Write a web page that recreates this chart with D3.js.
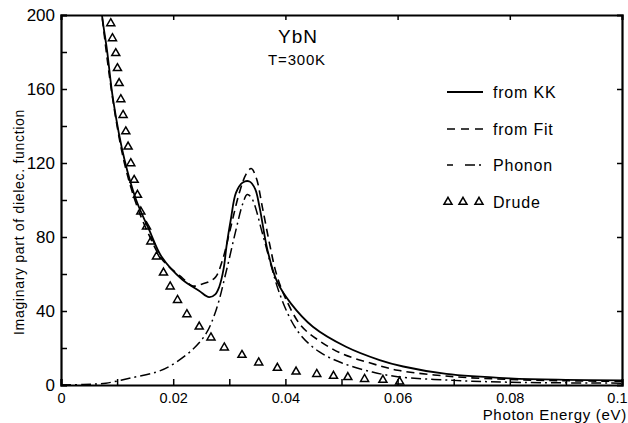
<!DOCTYPE html>
<html>
<head>
<meta charset="utf-8">
<script src="https://cdn.jsdelivr.net/npm/d3@7"></script>
<style>
  body { margin: 0; background: #fff; }
  svg { display: block; font-family: "Liberation Sans", Arial, sans-serif; }
  .axis path, .axis line { stroke: #000; }
  .axis text { fill: #000; }
</style>
</head>
<body>
<div id="wrapper"></div>
<script>
// photon energy (eV) / imaginary part of dielectric function
var kkEnergy = [0.0060, 0.0073, 0.0082, 0.0093, 0.0113, 0.0134, 0.0157, 0.0180, 0.0216, 0.0246, 0.0264, 0.0275, 0.0282, 0.0290, 0.0295, 0.0303, 0.0312, 0.0324, 0.0336, 0.0346, 0.0354, 0.0368, 0.0385, 0.0410, 0.0449, 0.0508, 0.0568, 0.0610, 0.0687, 0.0800, 0.0900, 0.1000];
var kkValue  = [240, 200, 181, 154, 122, 100, 84, 69, 57, 51, 47.5, 49, 53, 63, 75, 90, 104, 109.5, 110, 106, 96, 73, 56, 44, 31.5, 20.7, 13.5, 10, 6, 3.6, 2.8, 2.5];

var fitEnergy = [0.0060, 0.0073, 0.0093, 0.0113, 0.0134, 0.0157, 0.0180, 0.0217, 0.0235, 0.0252, 0.0265, 0.0276, 0.0288, 0.0300, 0.0318, 0.0330, 0.0339, 0.0348, 0.0359, 0.0372, 0.0384, 0.0400, 0.0428, 0.0460, 0.0500, 0.0550, 0.0600, 0.0700, 0.0800, 0.0900, 0.1000];
var fitValue  = [240, 200, 153, 120, 98, 81, 68, 57.7, 53.5, 54.6, 56, 58.5, 67.6, 82, 104, 114, 117, 112, 96, 76, 60, 47, 32, 24, 17, 12, 8, 4.5, 3, 2.3, 2];

var phononEnergy = [0.0000, 0.0040, 0.0080, 0.0127, 0.0170, 0.0193, 0.0234, 0.0259, 0.0277, 0.0295, 0.0312, 0.0324, 0.0332, 0.0340, 0.0359, 0.0375, 0.0389, 0.0410, 0.0430, 0.0460, 0.0500, 0.0555, 0.0600, 0.0700, 0.0800, 0.1000];
var phononValue  = [0, 0.3, 1, 4, 7, 10, 19, 28, 41, 62, 84, 98, 103, 101, 82, 64, 50, 35, 26, 18, 12, 7, 4.5, 2.5, 1.5, 1];

var drudeEnergy = [0.00887, 0.00917, 0.00976, 0.01006, 0.01036, 0.01066, 0.01107, 0.01155, 0.01196, 0.01244, 0.01304, 0.01363, 0.01423, 0.01524, 0.01601, 0.01702, 0.01827, 0.01946, 0.02077, 0.02244, 0.02464, 0.02673, 0.02911, 0.03226, 0.03524, 0.03857, 0.04190, 0.04559, 0.04857, 0.05113, 0.05411, 0.05738, 0.06036];
var drudeValue  = [195.5, 187.4, 179.3, 171.2, 163.1, 154.4, 145.9, 137, 128.8, 119.8, 110.8, 102.7, 93.7, 85.6, 77.5, 69.4, 60.7, 53.2, 45.9, 38.2, 31.5, 25.6, 20.2, 16.2, 12.1, 9.2, 7.2, 5.9, 4.9, 4.2, 3.2, 2.7, 1.8];

var xTicks = [0, 0.01, 0.02, 0.03, 0.04, 0.05, 0.06, 0.07, 0.08, 0.09, 0.1];
var xLabels = {0: "0", 0.02: "0.02", 0.04: "0.04", 0.06: "0.06", 0.08: "0.08", 0.1: "0.1"};
var yTicks = [0, 20, 40, 60, 80, 100, 120, 140, 160, 180, 200];
var yLabels = [0, 40, 80, 120, 160, 200];

var legendNames = ["from KK", "from Fit", "Phonon", "Drude"];

var dimension = {
    width: 628,
    height: 423,
    margin: { top: 15, right: 6, bottom: 38, left: 61 }
}
dimension.boundedWidth = dimension.width - dimension.margin.left - dimension.margin.right;
dimension.boundedHeight = dimension.height - dimension.margin.top - dimension.margin.bottom;

var x = d3.scaleLinear().domain([0, 0.1]).range([0, 561]);
var y = d3.scaleLinear().domain([0, 200]).range([370, 0]);

const svg = d3.select("#wrapper")
    .append("svg")
    .attr("width", dimension.width)
    .attr("height", dimension.height)

const bounds = svg.append("g")
    .attr("transform", `translate(${dimension.margin.left},${dimension.margin.top})`)

bounds.append("clipPath")
    .attr("id", "plotclip")
    .append("rect")
    .attr("x", 0).attr("y", 0)
    .attr("width", 561).attr("height", 370)

// curves
var line = d3.line()
    .x(d => x(d[0]))
    .y(d => y(d[1]))
    .curve(d3.curveCatmullRom.alpha(0.5))

var zip = (a, b) => a.map((v, i) => [v, b[i]]);

var curves = [
    {pts: zip(kkEnergy, kkValue), dash: null, w: 1.8},
    {pts: zip(fitEnergy, fitValue), dash: "8,5", w: 1.6},
    {pts: zip(phononEnergy, phononValue), dash: "10,4,2,4", w: 1.5}
];

bounds.append("g")
    .attr("clip-path", "url(#plotclip)")
    .selectAll("path.curve")
    .data(curves)
    .enter()
    .append("path")
    .attr("class", "curve")
    .attr("d", d => line(d.pts))
    .style("fill", "none")
    .style("stroke", "#000")
    .style("stroke-width", d => d.w)
    .style("stroke-dasharray", d => d.dash)

var tri = d3.symbol().type(d3.symbolTriangle).size(28);

bounds.append("g")
    .selectAll("path.drude")
    .data(zip(drudeEnergy, drudeValue))
    .enter()
    .append("path")
    .attr("class", "drude")
    .attr("d", tri)
    .attr("transform", d => `translate(${x(d[0])},${y(d[1])})`)
    .style("fill", "none")
    .style("stroke", "#000")
    .style("stroke-width", 1.5)

// axes
var xAxis = d3.axisBottom(x)
    .tickValues(xTicks)
    .tickSize(-6)
    .tickPadding(8)
    .tickFormat(d => xLabels[d] || "");

var yAxis = d3.axisLeft(y)
    .tickValues(yTicks)
    .tickSize(-6)
    .tickPadding(6)
    .tickFormat(d => yLabels.includes(d) ? d : "");

bounds.append("g")
    .attr("class", "axis")
    .attr("transform", "translate(0,370)")
    .call(xAxis)
    .call(g => g.select(".domain").attr("stroke-width", 2.2))
    .call(g => g.selectAll("text").attr("font-size", 14.5))
    .call(g => g.selectAll(".tick").filter(d => d === 0.1).select("text")
        .attr("text-anchor", "end").attr("x", 5))

bounds.append("g")
    .attr("class", "axis")
    .call(yAxis)
    .call(g => g.select(".domain").attr("stroke-width", 2.2))
    .call(g => g.selectAll("text").attr("font-size", 17))

bounds.append("g")
    .attr("class", "axis")
    .call(d3.axisTop(x).tickValues([0.02, 0.04, 0.06, 0.08]).tickSize(-5).tickFormat(""))
    .call(g => g.select(".domain").attr("stroke-width", 2.2))

bounds.append("g")
    .attr("class", "axis")
    .attr("transform", "translate(561,0)")
    .call(d3.axisRight(y).tickValues([40, 80, 120, 160]).tickSize(-5).tickFormat(""))
    .call(g => g.select(".domain").attr("stroke-width", 2.2))

svg.selectAll(".axis line").attr("stroke-width", 1.5)

// axis titles
svg.append("text")
    .attr("x", 627)
    .attr("y", 420)
    .attr("text-anchor", "end")
    .attr("font-size", 15)
    .style("letter-spacing", "0.7px")
    .text("Photon Energy (eV)")

svg.append("text")
    .attr("transform", "translate(24,222) rotate(-90)")
    .attr("text-anchor", "middle")
    .attr("font-size", 14)
    .style("letter-spacing", "0.7px")
    .text("Imaginary part of dielec. function")

// title
svg.append("text")
    .attr("x", 298).attr("y", 43)
    .attr("text-anchor", "middle")
    .attr("font-size", 19)
    .style("letter-spacing", "1px")
    .text("YbN")

svg.append("text")
    .attr("x", 297).attr("y", 65)
    .attr("text-anchor", "middle")
    .attr("font-size", 15)
    .style("letter-spacing", "0.8px")
    .text("T=300K")

// legend
var legendY = [92, 129, 165, 202];
var legend = svg.append("g")

legend.append("line").attr("x1", 447).attr("x2", 483).attr("y1", legendY[0]).attr("y2", legendY[0])
    .style("stroke", "#000").style("stroke-width", 1.8)
legend.append("line").attr("x1", 447).attr("x2", 484).attr("y1", legendY[1]).attr("y2", legendY[1])
    .style("stroke", "#000").style("stroke-width", 1.6).style("stroke-dasharray", "8,6")
legend.append("line").attr("x1", 447).attr("x2", 482).attr("y1", legendY[2]).attr("y2", legendY[2])
    .style("stroke", "#000").style("stroke-width", 1.6).style("stroke-dasharray", "6,12,10,4,2,20")
legend.selectAll("path.legtri")
    .data([448, 463, 479])
    .enter()
    .append("path")
    .attr("class", "legtri")
    .attr("d", tri)
    .attr("transform", d => `translate(${d},${legendY[3]})`)
    .style("fill", "none")
    .style("stroke", "#000")
    .style("stroke-width", 1.5)

legend.selectAll("text")
    .data(legendNames)
    .enter()
    .append("text")
    .attr("x", 493)
    .attr("y", (d, i) => legendY[i] + 6)
    .attr("font-size", 16)
    .style("letter-spacing", "0.8px")
    .text(d => d)
</script>
</body>
</html>
